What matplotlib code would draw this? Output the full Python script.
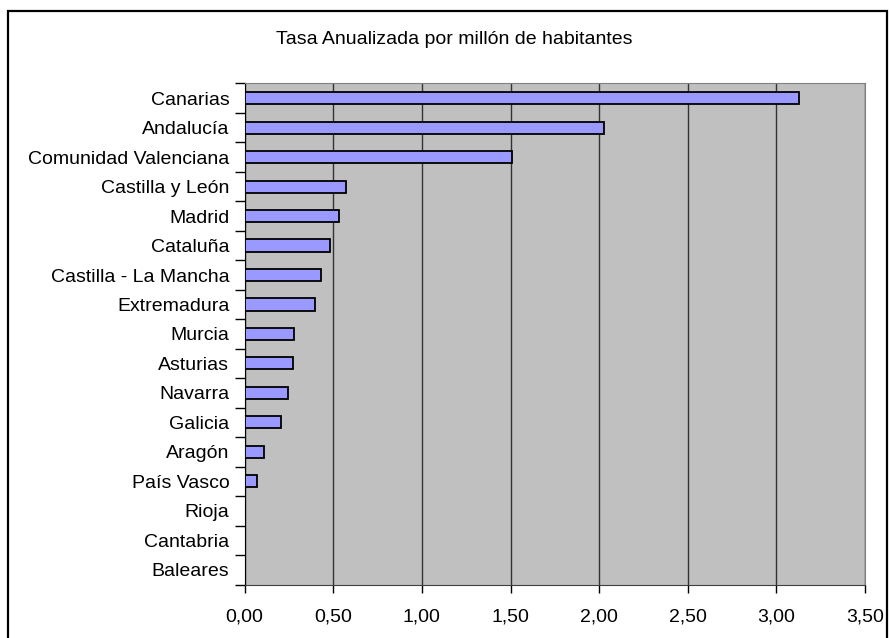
import numpy as np
import matplotlib.pyplot as plt
from matplotlib.patches import Rectangle
from matplotlib.ticker import FixedLocator, FuncFormatter

# --- datos ---
regiones = ['Canarias', 'Andalucía', 'Comunidad Valenciana', 'Castilla y León',
            'Madrid', 'Cataluña', 'Castilla - La Mancha', 'Extremadura', 'Murcia',
            'Asturias', 'Navarra', 'Galicia', 'Aragón', 'País Vasco', 'Rioja',
            'Cantabria', 'Baleares']
tasas = [3.13, 2.03, 1.51, 0.57, 0.53, 0.48, 0.43, 0.395, 0.277,
         0.27, 0.247, 0.206, 0.11, 0.07, 0.0, 0.0, 0.0]
titulo = 'Tasa Anualizada por millón de habitantes'
x_ticks = [0.0, 0.5, 1.0, 1.5, 2.0, 2.5, 3.0, 3.5]

plt.rcParams['font.family'] = ['Liberation Sans', 'DejaVu Sans']

fig = plt.figure(figsize=(8.9, 6.38), dpi=100)
fig.patch.set_facecolor('white')
ax = fig.add_axes([0.2749, 0.0838, 0.697, 0.7855])
ax.set_facecolor('#C0C0C0')

y = np.arange(len(regiones))
ax.barh(y, tasas, height=0.41, color='#9999FF', edgecolor='black', linewidth=1.3, zorder=3)

ax.set_xlim(0, 3.5)
ax.set_ylim(len(regiones) - 0.5, -0.5)

# eje x
ax.set_xticks(x_ticks)
ax.xaxis.set_major_formatter(FuncFormatter(lambda v, p: f'{v:.2f}'.replace('.', ',')))
ax.tick_params(axis='x', direction='out', length=6, width=1, color='black',
               labelsize=14, pad=11)
ax.grid(axis='x', color='#333333', linewidth=1, zorder=1)
ax.set_axisbelow(True)

# eje y: marcas entre categorías, etiquetas en el centro
ax.yaxis.set_major_locator(FixedLocator(np.arange(-0.5, len(regiones), 1)))
ax.yaxis.set_minor_locator(FixedLocator(y))
ax.set_yticklabels([], minor=False)
ax.set_yticklabels(regiones, minor=True)
ax.tick_params(axis='y', which='major', direction='out', length=7, width=1, color='black')
ax.tick_params(axis='y', which='minor', length=0, labelsize=14, pad=11)

ax.spines['left'].set_color('black')
ax.spines['bottom'].set_color('#404040')
ax.spines['top'].set_color('#808080')
ax.spines['right'].set_color('#808080')

fig.text(454.7 / 890, 1 - 40 / 638, titulo, ha='center', va='center', fontsize=14)

# marco exterior
fig.patches.append(Rectangle((8.3 / 890, -0.02), (887 - 8.3) / 890, 1 - 10.7 / 638 + 0.02,
                             transform=fig.transFigure, fill=False,
                             edgecolor='black', linewidth=1.6))

fig.savefig('out.png', dpi=100)
